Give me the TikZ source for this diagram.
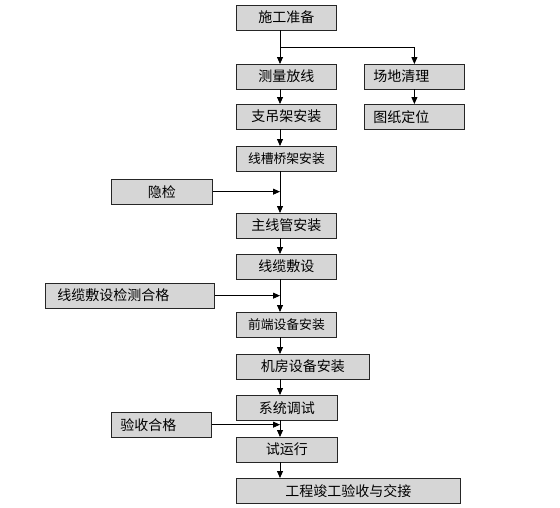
\documentclass[tikz,border=0pt]{standalone}
\usepackage{fontspec}
\newfontfamily\cjk{Noto Sans CJK SC}
\usetikzlibrary{arrows.meta,positioning}

\tikzset{
  stage/.style={draw=black!85, fill=gray!32, minimum height=24.5pt, inner sep=0pt,
    font=\cjk\fontsize{14}{14}\selectfont, anchor=north west},
  flushstage/.style={stage, align=left, inner xsep=9pt, text width=#1},
  smalltext/.style={font=\cjk\fontsize{12.8}{13}\selectfont},
}

\begin{document}
\begin{tikzpicture}[x=1pt,y=-1pt,>={Triangle[length=7pt,width=6pt]},line width=0.8pt]

        \useasboundingbox (0,0) rectangle (560,507);

        \coordinate (spine) at (280,0);
        \coordinate (fork) at (280,47);

        \node[stage,minimum width=100pt] (prep) at (236,5) {施工准备};
        \node[stage,minimum width=100pt] (survey) at (236,64) {测量放线};
        \node[flushstage=82pt] (clear) at (364,64) {场地清理};
        \node[flushstage=82pt] (drawing) at (364,104) {图纸定位};
        \node[stage,minimum width=100pt] (hanger) at (236,104) {支吊架安装};
        \node[stage,smalltext,minimum width=100pt] (tray) at (236,146) {线槽桥架安装};
        \node[stage,minimum width=101pt] (hidden) at (111,179) {隐检};
        \node[stage,minimum width=100pt] (conduit) at (236,213) {主线管安装};
        \node[stage,minimum width=100pt] (cable) at (236,254) {线缆敷设};
        \node[flushstage=145pt,inner xsep=12pt] (cabletest) at (45,283) {线缆敷设检测合格};
        \node[stage,smalltext,minimum width=100pt] (front) at (236,312) {前端设备安装};
        \node[stage,minimum width=133pt] (room) at (236,354) {机房设备安装};
        \node[stage,minimum width=101pt] (debug) at (236,395) {系统调试};
        \node[flushstage=82pt] (accept) at (111,412) {验收合格};
        \node[stage,minimum width=101pt] (trial) at (236,437) {试运行};
        \node[stage,minimum width=224pt] (handover) at (236,478) {工程竣工验收与交接};

        \foreach \a/\b in {prep/survey, survey/hanger, hanger/tray, tray/conduit,
                           conduit/cable, cable/front, front/room, room/debug,
                           debug/trial, trial/handover}
          \draw[->] (\a.south -| spine) -- (\b.north -| spine);

        \draw[->] (fork) -| (clear.north);
        \draw[->] (clear) -- (drawing);

        \foreach \s in {hidden, cabletest, accept}
          \draw[->] (\s.east) -- (\s.east -| spine);

\end{tikzpicture}
\end{document}
